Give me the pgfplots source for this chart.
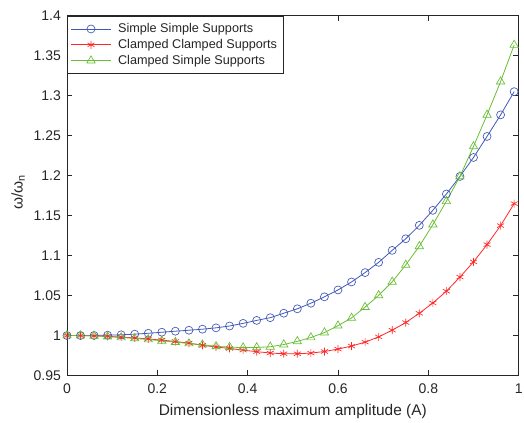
\documentclass[border=0pt]{standalone}
\usepackage{fontspec}
\setmainfont{Liberation Sans}
\usepackage{pgfplots}
\pgfplotsset{compat=1.18}
\definecolor{mblue}{RGB}{64,88,184}
\definecolor{mred}{RGB}{255,40,40}
\definecolor{mgreen}{RGB}{104,190,52}
\definecolor{axgray}{RGB}{38,38,38}
\begin{document}
\begin{tikzpicture}
\begin{axis}[
  scale only axis, width=339pt, height=270pt,
  xmin=0, xmax=1, ymin=0.95, ymax=1.4,
  xtick={0,0.2,0.4,0.6,0.8,1},
  ytick={0.95,1,1.05,1.1,1.15,1.2,1.25,1.3,1.35,1.4},
  tick align=inside, major tick length=4pt,
  axis line style={axgray, line width=0.5pt},
  every tick/.style={axgray, line width=0.5pt},
  /pgf/number format/assume math mode=true,
  every tick label/.append style={font=\fontsize{10.5}{12}\selectfont, text=axgray},
  yticklabel style={/pgf/number format/fixed, xshift=-1pt},
  xticklabel style={/pgf/number format/fixed, yshift=-3pt},
  xlabel={Dimensionless maximum amplitude (A)},
  ylabel={ω/ω\textsubscript{n}},
  label style={font=\fontsize{11.6}{13}\selectfont, text=axgray},
  xlabel style={at={(axis description cs:0.5,-0.1)}, anchor=center},
  ylabel style={at={(axis description cs:-0.108,0.51)}, anchor=center},
  legend style={at={(0,1)}, anchor=north west, draw=axgray, line width=0.5pt,
    font=\fontsize{9.5}{11}\selectfont, text=axgray, inner xsep=2.5pt, inner ysep=3.5pt, row sep=-0.5pt},
  legend cell align=left,
  legend image code/.code={\draw[mark repeat=2,mark phase=2] plot coordinates {(0pt,0pt) (15pt,0pt) (30pt,0pt)};\path (33pt,0pt);},
]
\addplot[mblue, line width=0.6pt, mark=o, mark size=3pt, mark options={line width=0.5pt}] table {
x y
0 1.0000
0.03 1.0000
0.06 1.0001
0.09 1.0004
0.12 1.0009
0.15 1.0017
0.18 1.0028
0.21 1.0041
0.24 1.0054
0.27 1.0066
0.30 1.0079
0.33 1.0096
0.36 1.0119
0.39 1.0152
0.42 1.0189
0.45 1.0223
0.48 1.0279
0.51 1.0334
0.54 1.0404
0.57 1.0484
0.60 1.0570
0.63 1.0670
0.66 1.0787
0.69 1.0915
0.72 1.1065
0.75 1.1210
0.78 1.1378
0.81 1.1566
0.84 1.1770
0.87 1.1990
0.90 1.2227
0.93 1.2490
0.96 1.2760
0.99 1.3050
};
\addlegendentry{Simple Simple Supports}
\addplot[mred, line width=0.6pt, mark=asterisk, mark size=3pt, mark options={line width=0.5pt}] table {
x y
0 1.0000
0.03 0.9999
0.06 0.9996
0.09 0.9990
0.12 0.9980
0.15 0.9970
0.18 0.9957
0.21 0.9942
0.24 0.9925
0.27 0.9905
0.30 0.9877
0.33 0.9857
0.36 0.9838
0.39 0.9817
0.42 0.9798
0.45 0.9781
0.48 0.9772
0.51 0.9772
0.54 0.9780
0.57 0.9800
0.60 0.9830
0.63 0.9868
0.66 0.9917
0.69 0.9983
0.72 1.0067
0.75 1.0162
0.78 1.0278
0.81 1.0407
0.84 1.0554
0.87 1.0731
0.90 1.0921
0.93 1.1137
0.96 1.1375
0.99 1.1650
};
\addlegendentry{Clamped Clamped Supports}
\addplot[mgreen, line width=0.6pt, mark=triangle, mark size=3.6pt, mark options={line width=0.5pt}] table {
x y
0 1.0000
0.03 0.9999
0.06 0.9995
0.09 0.9986
0.12 0.9975
0.15 0.9964
0.18 0.9950
0.21 0.9934
0.24 0.9917
0.27 0.9900
0.30 0.9885
0.33 0.9864
0.36 0.9855
0.39 0.9849
0.42 0.9851
0.45 0.9859
0.48 0.9887
0.51 0.9927
0.54 0.9975
0.57 1.0037
0.60 1.0123
0.63 1.0220
0.66 1.0355
0.69 1.0502
0.72 1.0671
0.75 1.0883
0.78 1.1116
0.81 1.1387
0.84 1.1680
0.87 1.1990
0.90 1.2365
0.93 1.2760
0.96 1.3176
0.99 1.3634
};
\addlegendentry{Clamped Simple Supports}
\coordinate (bl) at (rel axis cs:0,0);
\coordinate (tr) at (rel axis cs:1,1);
\end{axis}
\pgfresetboundingbox
\useasboundingbox ([shift={(-50.25pt,-35.25pt)}]bl) rectangle ([shift={(4pt,11.8pt)}]tr);
\end{tikzpicture}
\end{document}
